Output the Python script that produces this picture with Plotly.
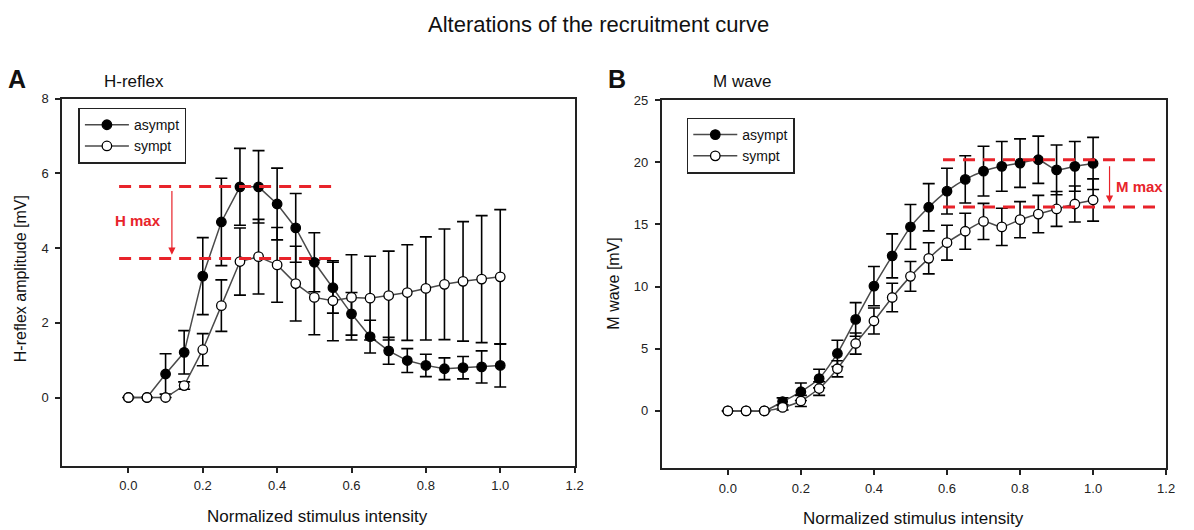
import plotly.graph_objects as go

# Normalized stimulus intensity (shared by both panels)
intensity = [0.0, 0.05, 0.10, 0.15, 0.20, 0.25, 0.30, 0.35, 0.40, 0.45, 0.50,
             0.55, 0.60, 0.65, 0.70, 0.75, 0.80, 0.85, 0.90, 0.95, 1.00]

# Panel A: H-reflex amplitude [mV], mean and SE
h_asympt = [0, 0, 0.63, 1.21, 3.25, 4.70, 5.64, 5.64, 5.18, 4.54, 3.62,
            2.94, 2.24, 1.63, 1.25, 0.99, 0.86, 0.77, 0.80, 0.82, 0.86]
h_asympt_se = [0, 0, 0.54, 0.58, 1.03, 1.17, 1.03, 0.97, 0.96, 0.92, 0.79,
               0.68, 0.57, 0.44, 0.36, 0.32, 0.30, 0.29, 0.30, 0.43, 0.58]
h_sympt = [0, 0, 0, 0.32, 1.28, 2.46, 3.64, 3.77, 3.55, 3.05, 2.68,
           2.59, 2.68, 2.66, 2.73, 2.81, 2.92, 3.03, 3.11, 3.17, 3.23]
h_sympt_se = [0, 0, 0, 0.10, 0.43, 0.69, 0.90, 1.00, 1.00, 1.00, 1.00,
              1.07, 1.14, 1.12, 1.19, 1.28, 1.38, 1.48, 1.60, 1.70, 1.80]

# Panel B: M wave [mV], mean and SE
m_asympt = [0, 0, 0, 0.75, 1.54, 2.60, 4.62, 7.36, 10.04, 12.47, 14.80,
            16.38, 17.67, 18.62, 19.28, 19.67, 19.93, 20.20, 19.38, 19.67, 19.90]
m_asympt_se = [0, 0, 0, 0.30, 0.70, 0.75, 1.06, 1.35, 1.58, 1.77, 1.80,
               1.90, 1.84, 1.90, 2.00, 2.00, 1.95, 1.90, 2.00, 2.00, 2.10]
m_sympt = [0, 0, 0, 0.28, 0.80, 1.80, 3.39, 5.42, 7.23, 9.12, 10.82,
           12.27, 13.53, 14.45, 15.24, 14.80, 15.38, 15.83, 16.24, 16.64, 16.96]
m_sympt_se = [0, 0, 0, 0.20, 0.45, 0.55, 0.65, 0.85, 1.05, 1.15, 1.20,
              1.25, 1.40, 1.45, 1.45, 1.50, 1.45, 1.50, 1.40, 1.45, 1.70]

# Maximal responses (dashed reference lines)
h_max = [5.65, 3.72]
m_max = [20.2, 16.4]

x_ticks = [0.0, 0.2, 0.4, 0.6, 0.8, 1.0, 1.2]

FONT = "Liberation Sans, Arial, sans-serif"
RED = "#e8232a"
LINE_GREY = "#4a4a4a"

fig = go.Figure()


def add_series(y, se, filled, name, xa, ya, legend, shape):
    fig.add_trace(go.Scatter(
        x=intensity, y=y, name=name, mode="lines+markers",
        xaxis=xa, yaxis=ya, legend=legend,
        line=dict(color=LINE_GREY, width=1.5, shape=shape, smoothing=0.6),
        marker=dict(size=9.5, color="black" if filled else "white",
                    line=dict(color="black", width=1.3)),
        error_y=dict(type="data", array=se, visible=True,
                     color="black", thickness=1.6, width=6),
    ))


add_series(h_asympt, h_asympt_se, True, "asympt", "x", "y", "legend", "linear")
add_series(h_sympt, h_sympt_se, False, "sympt", "x", "y", "legend", "linear")
add_series(m_asympt, m_asympt_se, True, "asympt", "x2", "y2", "legend2", "spline")
add_series(m_sympt, m_sympt_se, False, "sympt", "x2", "y2", "legend2", "spline")

axis_common = dict(
    showline=True, linecolor="#222", linewidth=1.8, mirror=True,
    ticks="outside", ticklen=5, tickwidth=1.5, tickcolor="#222",
    showgrid=False, zeroline=False,
    tickfont=dict(family=FONT, size=13, color="#222"),
)

legend_common = dict(
    xanchor="left", yanchor="top", bordercolor="#222", borderwidth=1.5,
    bgcolor="white", font=dict(family=FONT, size=14, color="#111"),
    itemwidth=44, tracegroupgap=0,
)

fig.update_layout(
    width=1194, height=530,
    margin=dict(l=0, r=0, t=0, b=0),
    paper_bgcolor="white", plot_bgcolor="white",
    font=dict(family=FONT, color="#111"),
    xaxis=dict(domain=[0.0525, 0.4849], range=[-0.178, 1.2], tickvals=x_ticks,
               tickformat=".1f", anchor="y", ticklabelstandoff=2, **axis_common),
    yaxis=dict(domain=[0.1226, 0.8247], range=[-1.83, 8], tick0=0, dtick=2,
               anchor="x", ticklabelstandoff=4, **axis_common),
    xaxis2=dict(domain=[0.5584, 0.9841], range=[-0.181, 1.2], tickvals=x_ticks,
                tickformat=".1f", anchor="y2", ticklabelstandoff=2, **axis_common),
    yaxis2=dict(domain=[0.1183, 0.8221], range=[-4.6, 25], tick0=0, dtick=5,
                anchor="x2", ticklabelstandoff=4, **axis_common),
    legend=dict(x=79 / 1194, y=1 - 102 / 530, **legend_common),
    legend2=dict(x=692 / 1194, y=1 - 112 / 530, **legend_common),
    showlegend=True,
)

# Dashed max-response lines
dash = "12px,8px"
for yv in h_max:
    fig.add_shape(type="line", xref="x", yref="y", x0=-0.025, x1=0.557, y0=yv, y1=yv,
                  line=dict(color=RED, width=3, dash=dash))
for yv in m_max:
    fig.add_shape(type="line", xref="x2", yref="y2", x0=0.589, x1=1.19, y0=yv, y1=yv,
                  line=dict(color=RED, width=3, dash=dash))

# Arrows between the maxima
fig.add_annotation(xref="x", yref="y", axref="x", ayref="y",
                   x=0.117, y=h_max[1] + 0.1, ax=0.117, ay=h_max[0] - 0.08,
                   text="", showarrow=True, arrowhead=2, arrowsize=1.2,
                   arrowwidth=1.2, arrowcolor=RED)
fig.add_annotation(xref="x2", yref="y2", axref="x2", ayref="y2",
                   x=1.045, y=m_max[1] + 0.35, ax=1.045, ay=m_max[0] - 0.4,
                   text="", showarrow=True, arrowhead=2, arrowsize=1.2,
                   arrowwidth=1.2, arrowcolor=RED)
fig.add_annotation(xref="x", yref="y", x=0.025, y=4.75, text="<b>H max</b>",
                   showarrow=False, font=dict(family=FONT, size=15, color=RED))
fig.add_annotation(xref="x2", yref="y2", x=1.058, y=18.06, text="<b>M max</b>",
                   xanchor="left", showarrow=False,
                   font=dict(family=FONT, size=15, color=RED))

# Titles and labels
def paper_text(x, y, text, size, bold=False, angle=0, anchor="center"):
    fig.add_annotation(xref="paper", yref="paper", x=x / 1194, y=1 - y / 530,
                       text=f"<b>{text}</b>" if bold else text, showarrow=False,
                       textangle=angle, xanchor=anchor, yanchor="middle",
                       font=dict(family=FONT, size=size, color="#111"))


paper_text(603, 18, "Alterations of the recruitment curve", 22)
paper_text(17, 73, "A", 25, bold=True)
paper_text(622, 73, "B", 25, bold=True)
paper_text(103, 75, "H-reflex", 17, anchor="left")
paper_text(716, 75, "M wave", 17, anchor="left")
paper_text(320, 516, "Normalized stimulus intensity", 17)
paper_text(920, 518, "Normalized stimulus intensity", 17)
paper_text(21, 275, "H-reflex amplitude [mV]", 16, angle=-90)
paper_text(618, 280, "M wave [mV]", 16, angle=-90)

fig.write_html("out.html")
